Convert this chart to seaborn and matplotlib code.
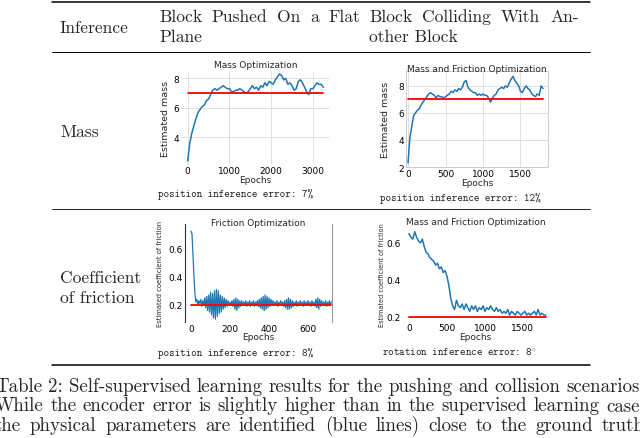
import matplotlib
matplotlib.use("Agg")
import matplotlib.pyplot as plt
import numpy as np
import pandas as pd
import seaborn as sns

# ---------------- data ----------------
# Block pushed on a flat plane: mass estimate (sampled every 50 epochs)
push_mass_epochs = list(range(0, 3251, 50))
push_mass_est = [2.4, 3.6, 4.3, 4.8, 5.3, 5.7, 5.9, 6.1, 6.2, 6.5,
                 6.6, 6.9, 7.2, 7.3, 7.2, 7.3, 7.4, 7.5, 7.4, 7.3,
                 7.3, 7.1, 7.1, 7.2, 7.2, 7.3, 7.2, 7.1, 7.0, 7.1,
                 7.3, 7.5, 7.3, 7.4, 7.2, 7.5, 7.4, 7.7, 7.5, 7.8,
                 7.7, 7.6, 7.9, 8.1, 8.3, 8.2, 7.9, 8.0, 7.6, 7.7,
                 7.5, 7.2, 7.3, 7.8, 7.9, 7.7, 7.4, 7.1, 6.9, 7.3,
                 7.3, 7.5, 7.7, 7.6, 7.6, 7.4]
push_mass_true = 7.0

# Block colliding with another block: mass estimate (every 25 epochs)
coll_mass_epochs = list(range(0, 1801, 25))
coll_mass_est = [2.3, 4.2, 5.0, 5.8, 6.0, 6.2, 6.3, 6.6, 6.8, 7.0,
                 7.2, 7.4, 7.5, 7.4, 7.3, 7.1, 7.3, 7.2, 7.2, 7.1,
                 7.2, 7.3, 7.4, 7.6, 7.5, 7.7, 7.6, 7.8, 7.7, 7.9,
                 8.3, 8.4, 7.9, 7.7, 7.6, 7.5, 7.5, 7.3, 7.4, 7.3,
                 7.4, 7.3, 7.3, 7.1, 6.8, 7.1, 7.3, 7.4, 7.7, 7.8,
                 7.9, 7.8, 8.0, 7.9, 8.2, 8.5, 8.7, 8.4, 8.2, 8.0,
                 7.6, 7.5, 7.8, 8.0, 7.8, 7.7, 7.4, 7.3, 7.2, 7.4,
                 7.3, 8.0, 7.8]
coll_mass_true = 7.0

# Block pushed on a flat plane: friction estimate (every 5 epochs)
push_fric_epochs = list(range(0, 721, 5))
push_fric_est = [0.72, 0.70, 0.55, 0.40, 0.28, 0.22, 0.24, 0.20, 0.23, 0.21,
                 0.24, 0.19, 0.23, 0.20, 0.25, 0.18, 0.26, 0.16, 0.27, 0.15,
                 0.29, 0.13, 0.28, 0.11, 0.30, 0.10, 0.31, 0.12, 0.30, 0.14,
                 0.27, 0.15, 0.26, 0.17, 0.25, 0.18, 0.24, 0.19, 0.23, 0.20,
                 0.22, 0.20, 0.23, 0.19, 0.24, 0.17, 0.25, 0.16, 0.24, 0.18,
                 0.23, 0.19, 0.23, 0.20, 0.22, 0.20, 0.23, 0.19, 0.22, 0.20,
                 0.23, 0.19, 0.22, 0.20, 0.23, 0.19, 0.22, 0.20, 0.23, 0.19,
                 0.24, 0.18, 0.25, 0.17, 0.26, 0.16, 0.27, 0.17, 0.26, 0.18,
                 0.25, 0.19, 0.24, 0.20, 0.23, 0.20, 0.22, 0.20, 0.23, 0.19,
                 0.22, 0.20, 0.23, 0.20, 0.22, 0.19, 0.23, 0.18, 0.24, 0.17,
                 0.25, 0.17, 0.24, 0.18, 0.23, 0.19, 0.22, 0.20, 0.23, 0.19,
                 0.22, 0.20, 0.23, 0.20, 0.22, 0.19, 0.23, 0.20, 0.22, 0.20,
                 0.23, 0.20, 0.22, 0.19, 0.23, 0.20, 0.22, 0.19, 0.24, 0.18,
                 0.25, 0.17, 0.24, 0.19, 0.23, 0.20, 0.22, 0.20, 0.23, 0.19,
                 0.22, 0.20, 0.23, 0.20, 0.22]
push_fric_true = 0.2

# Block colliding with another block: friction estimate (every 25 epochs)
coll_fric_epochs = list(range(0, 1801, 25))
coll_fric_est = [0.65, 0.63, 0.62, 0.66, 0.63, 0.61, 0.60, 0.62, 0.58, 0.55,
                 0.54, 0.52, 0.51, 0.50, 0.48, 0.49, 0.46, 0.47, 0.44, 0.45,
                 0.42, 0.37, 0.30, 0.26, 0.24, 0.29, 0.26, 0.25, 0.27, 0.24,
                 0.27, 0.25, 0.23, 0.26, 0.24, 0.26, 0.23, 0.25, 0.24, 0.26,
                 0.23, 0.25, 0.24, 0.26, 0.24, 0.23, 0.25, 0.23, 0.24, 0.22,
                 0.23, 0.22, 0.24, 0.21, 0.23, 0.22, 0.21, 0.23, 0.22, 0.21,
                 0.22, 0.23, 0.21, 0.22, 0.21, 0.22, 0.23, 0.21, 0.24, 0.21,
                 0.22, 0.21, 0.21]
coll_fric_true = 0.2

# texts
header_col0 = "Inference"
header_col1 = ["Block Pushed On a Flat", "Plane"]
header_col2 = ["Block Colliding With An-", "other Block"]
row_labels = [["Mass"], ["Coefficient", "of friction"]]
plot_titles = ["Mass Optimization", "Mass and Friction Optimization",
               "Friction Optimization", "Mass and Friction Optimization"]
y_labels = ["Estimated mass", "Estimated mass",
            "Estimated coefficient of friction", "Estimated coefficient of friction"]
x_label = "Epochs"
error_texts = ["position inference error: 7%", "position inference error: 12%",
               "position inference error: 8%", "rotation inference error: 8$^{\\circ}$"]
caption_lines = [
    "Table 2: Self-supervised learning results for the pushing and collision scenarios.",
    "While the encoder error is slightly higher than in the supervised learning case,",
    "the physical parameters are identified (blue lines) close to the ground truth",
]

# ---------------- figure ----------------
W, H = 640, 439
sns.set_theme(style="white")
plt.rcParams["font.family"] = ["DejaVu Sans"]
plt.rcParams["mathtext.fontset"] = "cm"
fig = plt.figure(figsize=(W / 100, H / 100), dpi=100)
renderer = fig.canvas.get_renderer()

BLUE = "#1f77b4"
RED = "#ff0000"
SERIF = ["cmr10", "DejaVu Serif"]
MONO = ["cmtt10", "DejaVu Sans Mono"]
TXT = 12.6
CAP = 13.6


def fx(x):
    return x / W


def fy(y):
    return 1 - y / H


def box(l, t, r, b):
    return [l / W, 1 - b / H, (r - l) / W, (b - t) / H]


def justify(line, x0, x1, yb, **kw):
    words = line.split(" ")
    arts = [fig.text(0, 0, w, va="baseline", ha="left", **kw) for w in words]
    widths = [a.get_window_extent(renderer).width for a in arts]
    gap = (x1 - x0 - sum(widths)) / max(len(words) - 1, 1)
    x = x0
    for a, w in zip(arts, widths):
        a.set_position((fx(x), fy(yb)))
        x += w + gap


# table rules
def rule(y, lw):
    fig.add_artist(plt.Line2D([fx(52), fx(590)], [fy(y), fy(y)], color="black", lw=lw,
                              transform=fig.transFigure))


rule(2.5, 1.1)
rule(52.5, 0.7)
rule(209.5, 0.6)
rule(365.5, 1.1)

# header
fig.text(fx(60), fy(33), header_col0, family=SERIF, fontsize=TXT, va="baseline")
justify(header_col1[0], 159, 360, 22, family=SERIF, fontsize=TXT)
fig.text(fx(159), fy(42), header_col1[1], family=SERIF, fontsize=TXT, va="baseline")
justify(header_col2[0], 369, 579, 22, family=SERIF, fontsize=TXT)
fig.text(fx(369), fy(42), header_col2[1], family=SERIF, fontsize=TXT, va="baseline")

# row labels
fig.text(fx(60), fy(137), row_labels[0][0], family=SERIF, fontsize=TXT, va="baseline")
fig.text(fx(60), fy(283), row_labels[1][0], family=SERIF, fontsize=TXT, va="baseline")
fig.text(fx(60), fy(303), row_labels[1][1], family=SERIF, fontsize=TXT, va="baseline")

# caption
for line, yb in zip(caption_lines, [392, 411.5, 431]):
    justify(line, -5, 645, yb, family=SERIF, fontsize=CAP)

FS = 6.5


def draw_panel(rect, epochs, est, truth, xlim, ylim, xticks, yticks, title,
               title_y, ylabel, ylabel_x, ylabel_fs, xlabel_y, style, lw_blue=1.1):
    l, t, r, b = rect
    with sns.axes_style(style):
        ax = fig.add_axes(box(l, t, r, b))
    df = pd.DataFrame({"Epochs": epochs, "value": est})
    sns.lineplot(data=df, x="Epochs", y="value", ax=ax, color=BLUE, lw=lw_blue)
    tdf = pd.DataFrame({"Epochs": [epochs[0], epochs[-1]], "value": [truth, truth]})
    sns.lineplot(data=tdf, x="Epochs", y="value", ax=ax, color=RED, lw=1.3)
    ax.set_xlim(*xlim)
    ax.set_ylim(*ylim)
    ax.set_xticks(xticks)
    ax.set_yticks(yticks)
    ax.set_xticklabels([str(v) for v in xticks])
    ax.set_yticklabels([f"{v:g}" for v in yticks])
    ax.tick_params(length=0, labelsize=FS, pad=1.5, colors="black")
    h = b - t
    ax.text(0.5, (b - title_y) / h, title, transform=ax.transAxes, ha="center",
            va="center", fontsize=FS)
    ax.set_xlabel(x_label, fontsize=FS)
    ax.xaxis.set_label_coords(0.5, (b - (xlabel_y - 4.5)) / h)
    ax.set_ylabel(ylabel, fontsize=ylabel_fs)
    ax.yaxis.set_label_coords((ylabel_x - l) / (r - l), 0.5)
    return ax


# panel 1
ax1 = draw_panel((181, 72, 330, 165), push_mass_epochs, push_mass_est, push_mass_true,
                 (-160, 3410), (2.2, 8.5), [0, 1000, 2000, 3000], [4, 6, 8],
                 plot_titles[0], 66, y_labels[0], 170, 6.8, 181, "whitegrid")
for s in ax1.spines.values():
    s.set_visible(False)
ax1.grid(color="#e0e0e0", lw=0.7)

# panel 2
ax2 = draw_panel((406, 72, 548, 168), coll_mass_epochs, coll_mass_est, coll_mass_true,
                 (-27, 1867), (2.0, 9.1), [0, 500, 1000, 1500], [2, 4, 6, 8],
                 plot_titles[1], 69, y_labels[1], 390, 6.8, 183, "whitegrid")
for s in ax2.spines.values():
    s.set_color("#cccccc")
    s.set_linewidth(0.7)
ax2.grid(color="#e0e0e0", lw=0.7)

# panel 3
ax3 = draw_panel((185, 225, 332, 323), push_fric_epochs, push_fric_est, push_fric_true,
                 (-31, 723), (0.08, 0.77), [0, 200, 400, 600], [0.2, 0.4, 0.6],
                 plot_titles[2], 223, y_labels[2], 163, 4.9, 338, "white", lw_blue=0.9)
ax3.spines["top"].set_visible(False)
ax3.spines["bottom"].set_visible(False)
ax3.spines["left"].set_color("#333333")
ax3.spines["left"].set_linewidth(0.8)
ax3.spines["right"].set_color("#999999")
ax3.spines["right"].set_linewidth(0.8)
ax3.grid(False)

# panel 4
ax4 = draw_panel((403, 229, 548, 322), coll_fric_epochs, coll_fric_est, coll_fric_true,
                 (-79, 1830), (0.178, 0.68), [0, 500, 1000, 1500], [0.2, 0.4, 0.6],
                 plot_titles[3], 223, y_labels[3], 385, 4.7, 338, "white")
for s in ax4.spines.values():
    s.set_visible(False)
ax4.grid(False)

# error texts under each panel
for s, (cx, yb) in zip(error_texts, [(236, 197), (460, 201), (236, 356), (460, 356)]):
    fig.text(fx(cx), fy(yb), s, family=MONO, fontsize=7.6, ha="center", va="baseline",
             color="#222222")

fig.savefig("out.png", dpi=100)
